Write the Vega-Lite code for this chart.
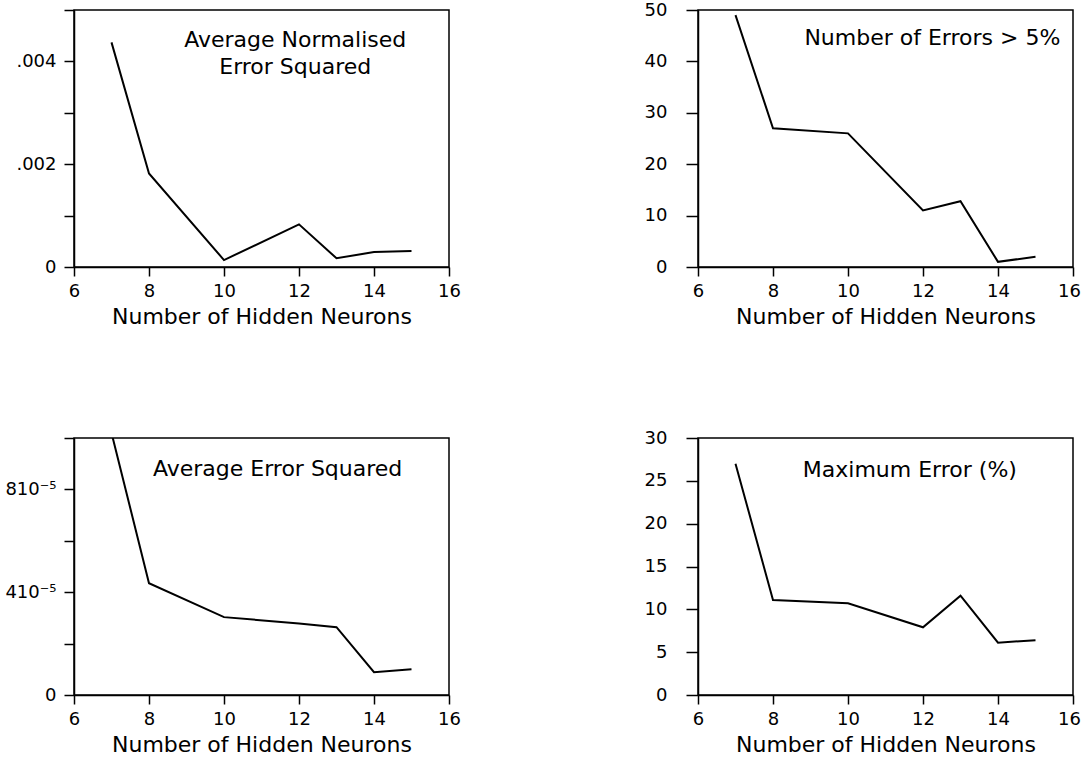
{
  "$schema": "https://vega.github.io/schema/vega-lite/v6.json",
  "background": "white",
  "padding": {"left": 4, "top": 0, "right": 5, "bottom": 5},
  "config": {
    "view": {"stroke": "black", "strokeWidth": 1.5},
    "font": "DejaVu Sans",
    "axis": {
      "domainColor": "black", "domainWidth": 1.5,
      "tickColor": "black", "tickWidth": 1.5, "tickSize": 9,
      "labelColor": "black", "labelFontSize": 18, "labelFont": "DejaVu Sans",
      "labelPadding": 6, "labelFlush": false,
      "titleColor": "black", "titleFontSize": 22, "titleFontWeight": "normal", "titleFont": "DejaVu Sans",
      "grid": false
    },
    "axisX": {"titlePadding": 6},
    "text": {"font": "DejaVu Sans", "color": "black"}
  },
  "datasets": {
    "p1": [
      {"neurons": 7, "value": 0.00437},
      {"neurons": 8, "value": 0.00182},
      {"neurons": 10, "value": 0.000135},
      {"neurons": 12, "value": 0.00083},
      {"neurons": 13, "value": 0.00017},
      {"neurons": 14, "value": 0.00029},
      {"neurons": 15, "value": 0.00031}
    ],
    "p2": [
      {"neurons": 7, "value": 49},
      {"neurons": 8, "value": 27},
      {"neurons": 10, "value": 26},
      {"neurons": 12, "value": 11},
      {"neurons": 13, "value": 12.8},
      {"neurons": 14, "value": 1},
      {"neurons": 15, "value": 2}
    ],
    "p3": [
      {"neurons": 7, "value": 0.000102},
      {"neurons": 8, "value": 0.0000435},
      {"neurons": 10, "value": 0.0000303},
      {"neurons": 12, "value": 0.0000278},
      {"neurons": 13, "value": 0.0000264},
      {"neurons": 14, "value": 0.0000089},
      {"neurons": 15, "value": 0.00001}
    ],
    "p4": [
      {"neurons": 7, "value": 27},
      {"neurons": 8, "value": 11.1},
      {"neurons": 10, "value": 10.7},
      {"neurons": 12, "value": 7.9},
      {"neurons": 13, "value": 11.6},
      {"neurons": 14, "value": 6.1},
      {"neurons": 15, "value": 6.4}
    ]
  },
  "columns": 2,
  "spacing": {"row": 171, "column": 249},
  "bounds": "flush",
  "concat": [
    {
      "width": 375, "height": 257,
      "layer": [
        {
          "data": {"name": "p1"},
          "mark": {"type": "line", "color": "black", "strokeWidth": 2, "clip": true},
          "encoding": {
            "x": {"field": "neurons", "type": "quantitative", "scale": {"domain": [6, 16], "nice": false}, "axis": {"values": [6, 8, 10, 12, 14, 16], "title": "Number of Hidden Neurons"}},
            "y": {"field": "value", "type": "quantitative", "scale": {"domain": [0, 0.005], "nice": false}, "axis": {"values": [0, 0.001, 0.002, 0.003, 0.004, 0.005], "labelExpr": "datum.value == 0 ? '0' : (datum.value == 0.002 ? '.002' : (datum.value == 0.004 ? '.004' : ''))", "title": null, "tickSize": 10, "labelPadding": 8}}
          }
        },
        {
          "data": {"values": [{}]},
          "mark": {"type": "text", "text": ["Average Normalised", "Error Squared"], "fontSize": 22, "lineHeight": 27, "align": "center", "baseline": "middle"},
          "encoding": {"x": {"datum": 11.9}, "y": {"datum": 0.00441}}
        }
      ]
    },
    {
      "width": 375, "height": 257,
      "layer": [
        {
          "data": {"name": "p2"},
          "mark": {"type": "line", "color": "black", "strokeWidth": 2, "clip": true},
          "encoding": {
            "x": {"field": "neurons", "type": "quantitative", "scale": {"domain": [6, 16], "nice": false}, "axis": {"values": [6, 8, 10, 12, 14, 16], "title": "Number of Hidden Neurons", "labelOffset": {"condition": {"test": "datum.value == 16", "value": -4}, "value": 0}}},
            "y": {"field": "value", "type": "quantitative", "scale": {"domain": [0, 50], "nice": false}, "axis": {"values": [0, 10, 20, 30, 40, 50], "title": null, "tickSize": 12, "labelPadding": 19}}
          }
        },
        {
          "data": {"values": [{}]},
          "mark": {"type": "text", "text": "Number of Errors > 5%", "fontSize": 22, "align": "center", "baseline": "middle"},
          "encoding": {"x": {"datum": 12.25}, "y": {"datum": 44.5}}
        }
      ]
    },
    {
      "width": 375, "height": 257,
      "layer": [
        {
          "data": {"name": "p3"},
          "mark": {"type": "line", "color": "black", "strokeWidth": 2, "clip": true},
          "encoding": {
            "x": {"field": "neurons", "type": "quantitative", "scale": {"domain": [6, 16], "nice": false}, "axis": {"values": [6, 8, 10, 12, 14, 16], "title": "Number of Hidden Neurons"}},
            "y": {"field": "value", "type": "quantitative", "scale": {"domain": [0, 0.0001], "nice": false}, "axis": {"values": [0, 0.00002, 0.00004, 0.00006, 0.00008, 0.0001], "labelExpr": "datum.value == 0 ? '0' : (datum.value == 0.00004 ? '410⁻⁵' : (datum.value == 0.00008 ? '810⁻⁵' : ''))", "title": null, "tickSize": 10, "labelPadding": 8}}
          }
        },
        {
          "data": {"values": [{}]},
          "mark": {"type": "text", "text": "Average Error Squared", "fontSize": 22, "align": "center", "baseline": "middle"},
          "encoding": {"x": {"datum": 11.43}, "y": {"datum": 0.000088}}
        }
      ]
    },
    {
      "width": 375, "height": 257,
      "layer": [
        {
          "data": {"name": "p4"},
          "mark": {"type": "line", "color": "black", "strokeWidth": 2, "clip": true},
          "encoding": {
            "x": {"field": "neurons", "type": "quantitative", "scale": {"domain": [6, 16], "nice": false}, "axis": {"values": [6, 8, 10, 12, 14, 16], "title": "Number of Hidden Neurons", "labelOffset": {"condition": {"test": "datum.value == 16", "value": -4}, "value": 0}}},
            "y": {"field": "value", "type": "quantitative", "scale": {"domain": [0, 30], "nice": false}, "axis": {"values": [0, 5, 10, 15, 20, 25, 30], "title": null, "tickSize": 12, "labelPadding": 19}}
          }
        },
        {
          "data": {"values": [{}]},
          "mark": {"type": "text", "text": "Maximum Error (%)", "fontSize": 22, "align": "center", "baseline": "middle"},
          "encoding": {"x": {"datum": 11.65}, "y": {"datum": 26.3}}
        }
      ]
    }
  ]
}
